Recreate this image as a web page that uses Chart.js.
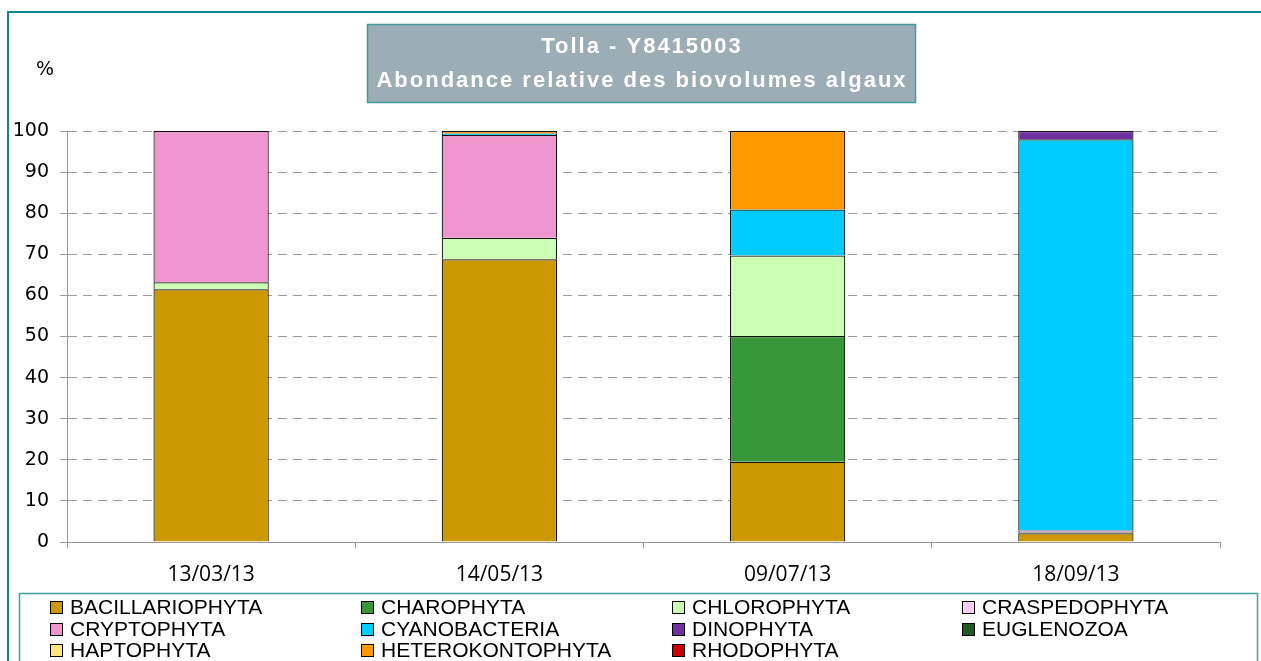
<!DOCTYPE html>
<html>
<head>
<meta charset="utf-8">
<script src="https://cdn.jsdelivr.net/npm/chart.js@4.4.0/dist/chart.umd.min.js"></script>
<style>
  html, body { margin: 0; padding: 0; background: #fff; }
  canvas { display: block; }
</style>
</head>
<body>
<canvas id="c" width="1261" height="661"></canvas>
<script>
// categories (sampling dates)
const categories = ['13/03/13', '14/05/13', '09/07/13', '18/09/13'];

// % of algal biovolume per group
const bacillariophyta  = [61.5, 68.8, 19.5, 2.1];
const charophyta       = [0, 0, 30.6, 0];
const chlorophyta      = [1.7, 5.2, 19.6, 0.3];
const craspedophyta    = [0, 0, 0, 0];
const cryptophyta      = [36.8, 25.0, 0, 0.4];
const cyanobacteria    = [0, 0.4, 11.2, 95.2];
const dinophyta        = [0, 0, 0, 2.0];
const euglenozoa       = [0, 0, 0, 0];
const haptophyta       = [0, 0, 0, 0];
const heterokontophyta = [0, 0.6, 19.1, 0];
const rhodophyta       = [0, 0, 0, 0];

const yTicks = [0, 10, 20, 30, 40, 50, 60, 70, 80, 90, 100];

const groups = [
  ['BACILLARIOPHYTA', bacillariophyta, '#cc9900'],
  ['CHAROPHYTA', charophyta, '#389738'],
  ['CHLOROPHYTA', chlorophyta, '#ccffb3'],
  ['CRASPEDOPHYTA', craspedophyta, '#ffccf5'],
  ['CRYPTOPHYTA', cryptophyta, '#f095cd'],
  ['CYANOBACTERIA', cyanobacteria, '#00ccff'],
  ['DINOPHYTA', dinophyta, '#7030a0'],
  ['EUGLENOZOA', euglenozoa, '#1f5a1f'],
  ['HAPTOPHYTA', haptophyta, '#ffe57a'],
  ['HETEROKONTOPHYTA', heterokontophyta, '#ff9900'],
  ['RHODOPHYTA', rhodophyta, '#cc0000']
];

let datasets = groups.map(g => ({
  label: g[0],
  data: g[1],
  backgroundColor: g[2],
  borderColor: '#111',
  borderWidth: 1.2,
  inflateAmount: 0,
  barPercentage: 0.4,
  categoryPercentage: 1.0
}));

// frame, title box, "%" and the grid legend
const decor = {
  id: 'decor',
  beforeDraw(chart) {
    const c = chart.ctx;
    c.save();
    c.fillStyle = '#fff';
    c.fillRect(0, 0, chart.width, chart.height);
    c.strokeStyle = '#0a8a8a';
    c.lineWidth = 2;
    c.strokeRect(8, 12, 1270, 700);

    // title box
    c.fillStyle = '#9dadb5';
    c.fillRect(367, 24, 548, 78);
    c.strokeStyle = '#3f9c9c';
    c.lineWidth = 1.5;
    c.strokeRect(367.5, 24.5, 548, 78);
    c.fillStyle = '#fff';
    c.font = 'bold 22px "Liberation Sans", Arial, sans-serif';
    c.textAlign = 'center';
    c.textBaseline = 'middle';
    c.letterSpacing = '2px';
    c.fillText('Tolla - Y8415003', 642, 47);
    c.fillText('Abondance relative des biovolumes algaux', 642, 81);
    c.letterSpacing = '0px';

    c.fillStyle = '#000';
    c.font = '19px "DejaVu Sans", sans-serif';
    c.textAlign = 'left';
    c.fillText('%', 36, 70);
    c.restore();
  },
  afterDraw(chart) {
    const c = chart.ctx;
    c.save();
    c.fillStyle = '#fff';
    c.fillRect(19, 593, 1239, 80);
    c.strokeStyle = '#40a0a0';
    c.lineWidth = 1.5;
    c.strokeRect(19.5, 593.5, 1238, 80);

    const colX = [50, 361, 672, 962];
    const rowY = [607, 629, 650];
    c.font = '21px "Liberation Sans", Arial, sans-serif';
    c.textBaseline = 'middle';
    c.textAlign = 'left';
    chart.data.datasets.forEach((ds, i) => {
      const x = colX[i % 4];
      const y = rowY[Math.floor(i / 4)];
      c.fillStyle = ds.backgroundColor;
      c.fillRect(x, y - 6, 12, 12);
      c.strokeStyle = '#000';
      c.lineWidth = 1;
      c.strokeRect(x + 0.5, y - 5.5, 12, 12);
      c.fillStyle = '#000';
      c.fillText(ds.label, x + 20, y + 1);
    });
    c.restore();
  }
};

new Chart(document.getElementById('c'), {
  type: 'bar',
  data: { labels: categories, datasets: datasets },
  options: {
    responsive: false,
    animation: false,
    layout: { padding: { left: 0, top: 131, right: 41, bottom: 0 } },
    plugins: {
      legend: { display: false },
      title: { display: false },
      tooltip: { enabled: false }
    },
    scales: {
      x: {
        stacked: true,
        grid: { drawOnChartArea: false, color: '#999', tickLength: 6, offset: true },
        border: { color: '#999', width: 1 },
        ticks: {
          color: '#000',
          padding: 14,
          maxRotation: 0,
          font: { family: '"Open Sans", sans-serif', size: 21 }
        },
        afterFit(scale) { scale.height = 119; }
      },
      y: {
        stacked: true,
        min: 0,
        max: 100,
        afterBuildTicks(scale) { scale.ticks = yTicks.map(v => ({ value: v })); },
        grid: { color: '#9a9a9a', tickLength: 7 },
        border: { color: '#999', width: 1, dash: [9, 6] },
        ticks: {
          color: '#000',
          padding: 11,
          font: { family: '"DejaVu Sans", sans-serif', size: 19 }
        },
        afterFit(scale) { scale.width = 67; }
      }
    }
  },
  plugins: [decor]
});
</script>
</body>
</html>
